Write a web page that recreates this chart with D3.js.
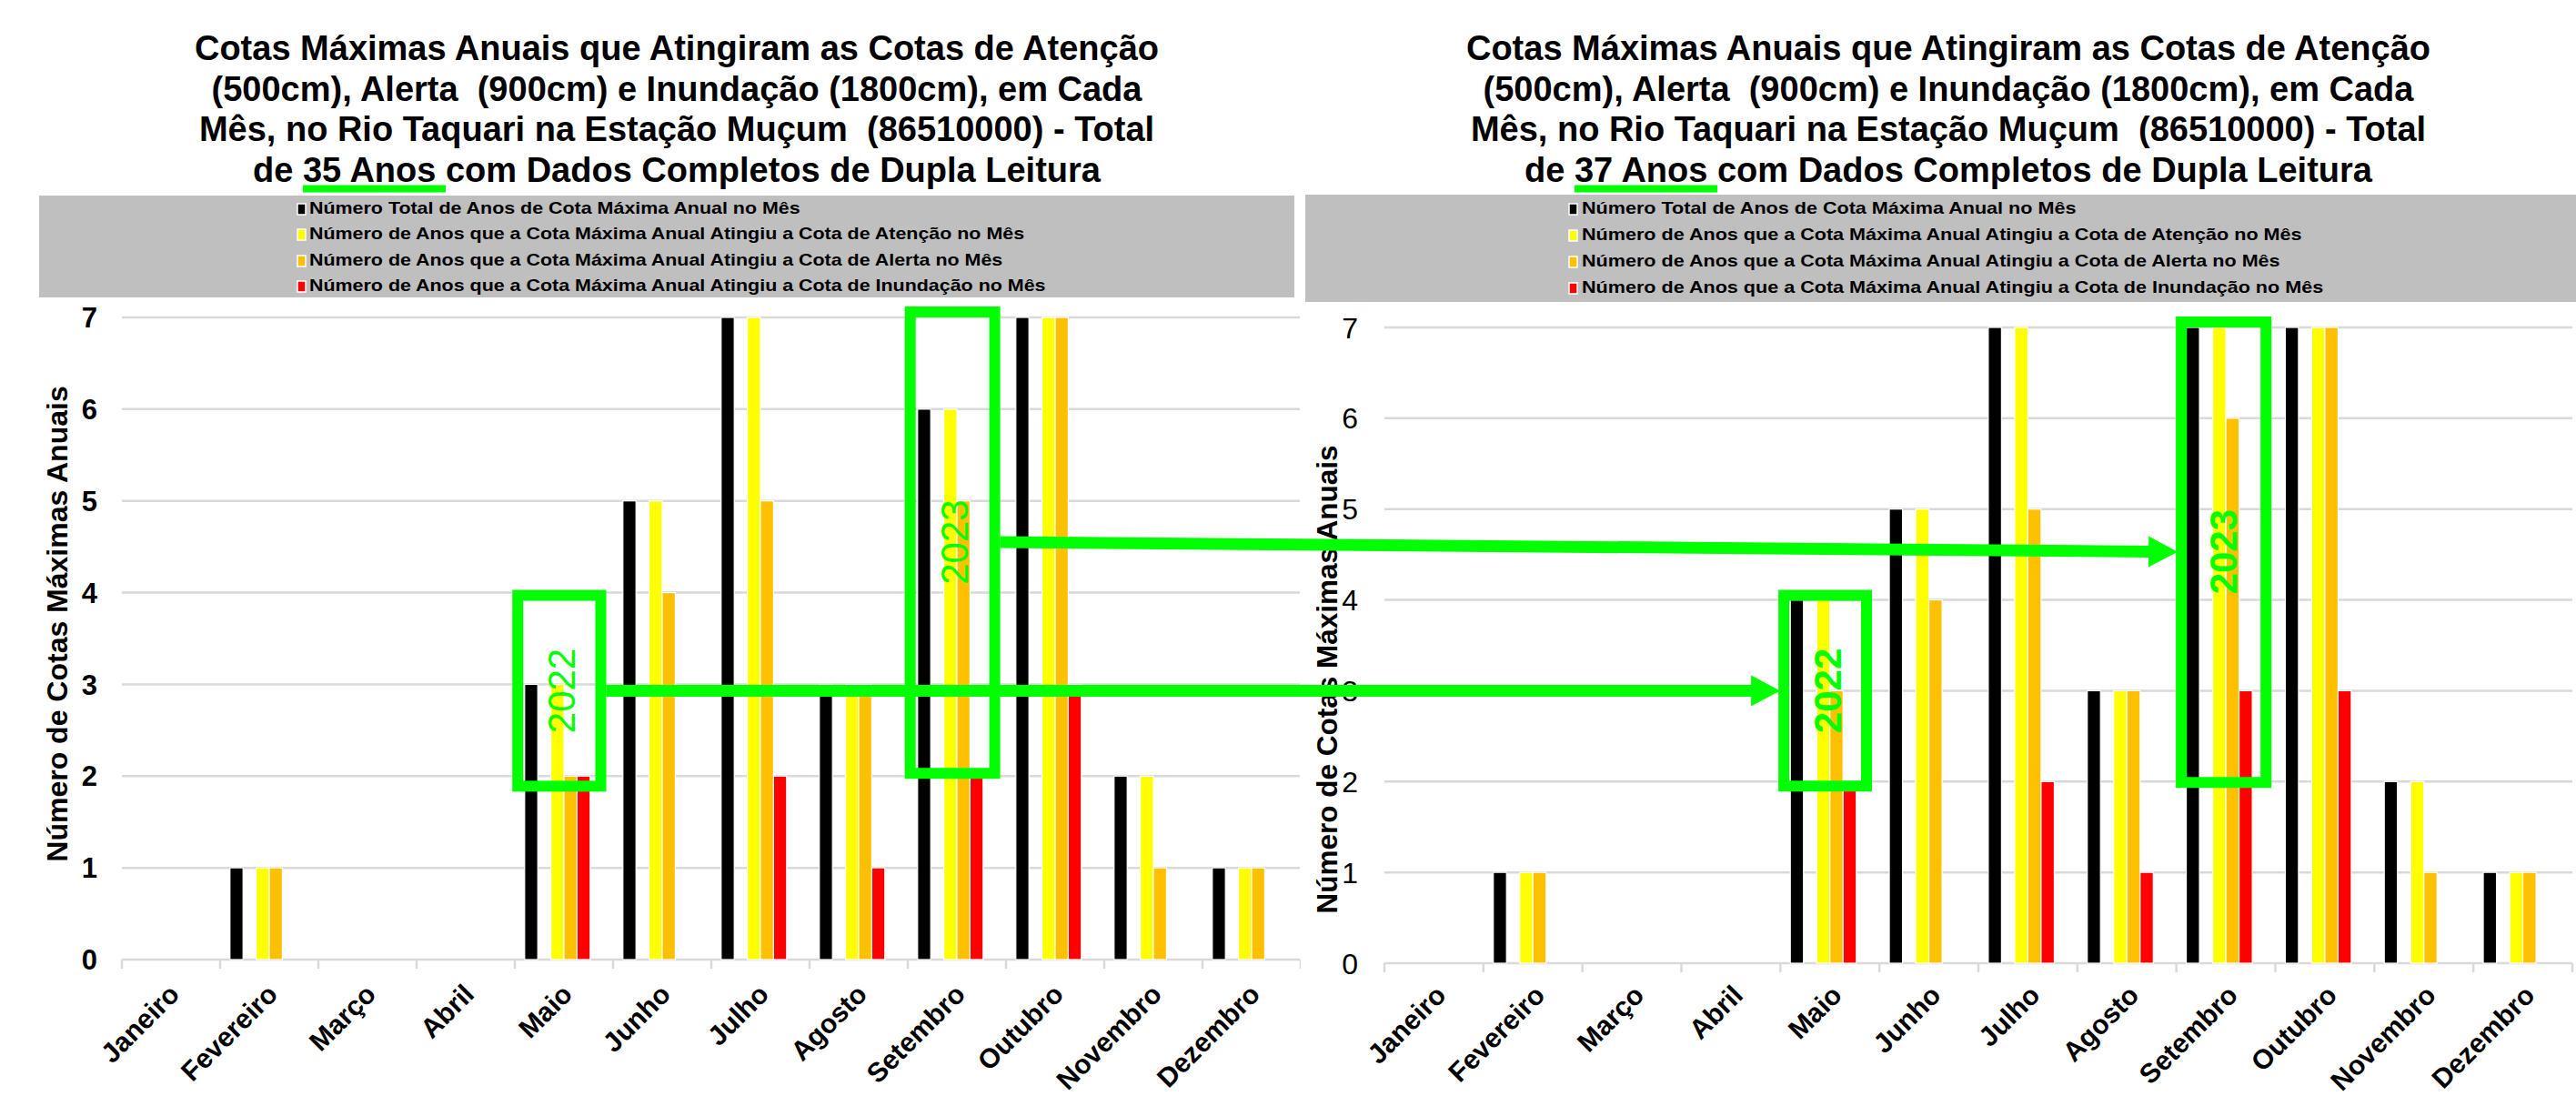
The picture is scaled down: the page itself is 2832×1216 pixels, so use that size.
<!DOCTYPE html>
<html><head><meta charset="utf-8">
<script src="https://cdn.jsdelivr.net/npm/d3@7"></script>
<style>
body{margin:0;background:#fff;}
text{font-family:"Liberation Sans",Arial,sans-serif;}
</style>
</head><body>
<svg id="c" width="2832" height="1216" xmlns="http://www.w3.org/2000/svg"></svg>
<script>
// ---------------- DATA ----------------
const months = ["Janeiro","Fevereiro","Março","Abril","Maio","Junho","Julho","Agosto","Setembro","Outubro","Novembro","Dezembro"];
const seriesNames = [
  "Número Total de Anos de Cota Máxima Anual no Mês",
  "Número de Anos que a Cota Máxima Anual Atingiu a Cota de Atenção no Mês",
  "Número de Anos que a Cota Máxima Anual Atingiu a Cota de Alerta no Mês",
  "Número de Anos que a Cota Máxima Anual Atingiu a Cota de Inundação no Mês"
];
const seriesColors = ["#000000","#FFFF00","#FFC000","#FF0000"];
const yTicks = [0,1,2,3,4,5,6,7];
const yAxisTitle = "Número de Cotas Máximas Anuais";

// 35 years chart
const total35     = [0,1,0,0,3,5,7,3,6,7,2,1];
const atencao35   = [0,1,0,0,3,5,7,3,6,7,2,1];
const alerta35    = [0,1,0,0,2,4,5,3,5,7,1,1];
const inundacao35 = [0,0,0,0,2,0,2,1,2,3,0,0];
// 37 years chart
const total37     = [0,1,0,0,4,5,7,3,7,7,2,1];
const atencao37   = [0,1,0,0,4,5,7,3,7,7,2,1];
const alerta37    = [0,1,0,0,3,4,5,3,6,7,1,1];
const inundacao37 = [0,0,0,0,2,0,2,1,3,3,0,0];

const titleLines35 = [
  "Cotas Máximas Anuais que Atingiram as Cotas de Atenção",
  "(500cm), Alerta  (900cm) e Inundação (1800cm), em Cada",
  "Mês, no Rio Taquari na Estação Muçum  (86510000) - Total",
  "de 35 Anos com Dados Completos de Dupla Leitura"
];
const titleLines37 = [
  "Cotas Máximas Anuais que Atingiram as Cotas de Atenção",
  "(500cm), Alerta  (900cm) e Inundação (1800cm), em Cada",
  "Mês, no Rio Taquari na Estação Muçum  (86510000) - Total",
  "de 37 Anos com Dados Completos de Dupla Leitura"
];
const underlinePrefix = "de ";
const underline35 = "35 Anos ";
const underline37 = "37 Anos ";

// annotation labels (years highlighted)
const highlightYears = ["2022","2023"];
const highlightMonths = ["Maio","Setembro"];

// ---------------- DRAW ----------------
const svg = d3.select("#c");
svg.append("rect").attr("width",2832).attr("height",1216).attr("fill","#fff");
const GREEN = "#00FF00";
const GRID = "#D9D9D9";

function textWidth(str, size, weight){
  const t = svg.append("text").style("white-space","pre")
    .attr("font-size",size).attr("font-weight",weight).text(str);
  const w = t.node().getComputedTextLength();
  t.remove();
  return w;
}

function drawChart(cfg){
  const g = svg.append("g");
  g.append("rect").attr("x",cfg.bg[0]).attr("y",0).attr("width",cfg.bg[1]-cfg.bg[0]).attr("height",1216).attr("fill","#fff");

  // title
  const tsize = 38;
  cfg.title.forEach((line,i)=>{
    g.append("text").attr("x",cfg.titleCx).attr("y",cfg.titleY0 + i*44.5)
      .attr("text-anchor","middle").attr("font-size",tsize).attr("font-weight","bold")
      .style("white-space","pre").attr("fill","#000").text(line);
  });
  const W = textWidth(cfg.title[3], tsize, "bold");
  const p = textWidth(underlinePrefix, tsize, "bold");
  const u = textWidth(cfg.underline, tsize, "bold");
  cfg.ulx = cfg.titleCx - W/2 + p; cfg.ulw = u;

  // legend
  const lg = g.append("g");
  lg.append("rect").attr("x",cfg.legBox[0]).attr("y",cfg.legBox[1]).attr("width",cfg.legBox[2]).attr("height",cfg.legBox[3]).attr("fill","#BFBFBF");
  const nat = textWidth(seriesNames[0], 18, "bold");
  const sx = cfg.legW0 / nat;
  seriesNames.forEach((name,i)=>{
    const by = cfg.legBase[i];
    lg.append("rect").attr("x",cfg.legSw).attr("y",by-11).attr("width",9).attr("height",12)
      .attr("fill",seriesColors[i]).attr("stroke","#fff").attr("stroke-width",1.5);
    lg.append("text").attr("transform",`translate(${cfg.legText},${by}) scale(${sx},1)`)
      .attr("font-size",18).attr("font-weight","bold").attr("fill","#000").text(name);
  });

  // scales
  const x = d3.scaleBand().domain(months).range(cfg.xr).paddingInner(0).paddingOuter(0);
  const y = d3.scaleLinear().domain([0,7]).range(cfg.yr);
  const x1 = d3.scaleBand().domain(d3.range(6)).range([0,x.bandwidth()]).paddingOuter(0.75);
  const slots = [0,2,3,4];
  cfg.x = x; cfg.y = y;

  // gridlines
  g.append("g").selectAll("line").data(yTicks).join("line")
    .attr("x1",cfg.xr[0]).attr("x2",cfg.gridEnd).attr("y1",d=>y(d)).attr("y2",d=>y(d))
    .attr("stroke",GRID).attr("stroke-width",2.5);
  g.append("g").selectAll("line").data(d3.range(months.length+1)).join("line")
    .attr("x1",i=>cfg.xr[0]+i*x.step()).attr("x2",i=>cfg.xr[0]+i*x.step())
    .attr("y1",y(0)).attr("y2",y(0)+10).attr("stroke",GRID).attr("stroke-width",2.5);

  // y tick labels
  g.append("g").selectAll("text").data(yTicks).join("text")
    .attr("x",cfg.yLabX).attr("y",d=>y(d)).attr("dy","0.36em").attr("text-anchor","end")
    .attr("font-size",cfg.yLabSize).attr("font-weight",cfg.yLabWeight).attr("fill","#000").text(d=>d);

  // y title
  g.append("text").attr("transform",`translate(${cfg.yTitle[0]},${cfg.yTitle[1]}) rotate(-90)`)
    .attr("text-anchor","middle").attr("font-size",cfg.yTitleSize).attr("font-weight","bold")
    .attr("fill","#000").text(yAxisTitle);

  // x labels
  g.append("g").selectAll("text").data(months).join("text")
    .attr("transform",d=>`translate(${x(d)+x.bandwidth()/2+cfg.xLabDx},${y(0)+cfg.xLabDy}) rotate(-45)`)
    .attr("text-anchor","end").attr("font-size",30).attr("font-weight","bold").attr("fill","#000").text(d=>d);

  // bars
  cfg.series.forEach((vals,si)=>{
    g.append("g").selectAll("rect").data(vals.map((v,i)=>({m:months[i],v})).filter(d=>d.v>0)).join("rect")
      .attr("x",d=>x(d.m)+x1(slots[si])).attr("width",x1.bandwidth())
      .attr("y",d=>y(d.v)).attr("height",d=>y(0)-y(d.v))
      .attr("fill",seriesColors[si]).attr("stroke","#fff").attr("stroke-width",1.2);
  });
  return cfg;
}

const L = drawChart({
  bg:[0,1430], title:titleLines35, titleCx:744, titleY0:66, underline:underline35,
  legBox:[43,215,1380,112], legSw:327, legText:340, legBase:[235,263,292,320], legW0:540,
  xr:[134,1430], yr:[1055,349], gridEnd:1429, yLabX:107, yLabWeight:"bold", yLabSize:31,
  yTitle:[74,686], yTitleSize:32, xLabDx:11, xLabDy:40,
  series:[total35,atencao35,alerta35,inundacao35]
});
const R = drawChart({
  bg:[1430,2832], title:titleLines37, titleCx:2142, titleY0:66, underline:underline37,
  legBox:[1435,214,1397,118], legSw:1725, legText:1739, legBase:[235,264,293,322], legW0:544,
  xr:[1522,2828], yr:[1059,360], gridEnd:2828, yLabX:1493, yLabWeight:"normal", yLabSize:32,
  yTitle:[1470,747], yTitleSize:31.5, xLabDx:15, xLabDy:37,
  series:[total37,atencao37,alerta37,inundacao37]
});

// ---------------- GREEN ANNOTATIONS ----------------
const ann = svg.append("g");
[L,R].forEach(c=>{
  ann.append("rect").attr("x",c.ulx).attr("y",c.titleY0+3*44.5+4).attr("width",c.ulw).attr("height",8).attr("fill",GREEN);
});
const boxes = [
  {c:L, m:highlightMonths[0], f0:0.03, f1:0.875, v0:3.97, v1:1.89, yr:highlightYears[0], bold:false, tv:2.93},
  {c:L, m:highlightMonths[1], f0:0.025, f1:0.885, v0:7.06, v1:2.03, yr:highlightYears[1], bold:false, tv:4.55},
  {c:R, m:highlightMonths[0], f0:0.035, f1:0.87, v0:4.05, v1:1.95, yr:highlightYears[0], bold:true, tv:3.0},
  {c:R, m:highlightMonths[1], f0:0.05, f1:0.905, v0:7.06, v1:1.99, yr:highlightYears[1], bold:true, tv:4.53}
];
boxes.forEach(b=>{
  const x = b.c.x, y = b.c.y, bw = x.bandwidth();
  const x0 = x(b.m)+b.f0*bw, x1 = x(b.m)+b.f1*bw;
  b.left = x0-6; b.right = x1+6;
  ann.append("rect").attr("x",x0).attr("y",y(b.v0)).attr("width",x1-x0).attr("height",y(b.v1)-y(b.v0))
    .attr("fill","none").attr("stroke",GREEN).attr("stroke-width",12);
  ann.append("text").attr("transform",`translate(${x(b.m)+bw*0.47},${y(b.tv)}) rotate(-90)`)
    .attr("text-anchor","middle").attr("dy","0.36em").attr("font-size",42)
    .attr("font-weight",b.bold?"bold":"normal").attr("fill",GREEN).text(b.yr);
});
function arrow(from, to, vFrom, vTo){
  const xs = from.right, ys = from.c.y(vFrom);
  const xt = to.left+2, yt = to.c.y(vTo);
  const headL = 32, headH = 17;
  const ang = Math.atan2(yt-ys, xt-xs);
  const bx = xt - headL*Math.cos(ang), by = yt - headL*Math.sin(ang);
  ann.append("line").attr("x1",xs).attr("y1",ys).attr("x2",bx+1).attr("y2",by)
    .attr("stroke",GREEN).attr("stroke-width",13);
  const nx = -Math.sin(ang), ny = Math.cos(ang);
  ann.append("polygon").attr("points",[[xt,yt],[bx+nx*headH,by+ny*headH],[bx-nx*headH,by-ny*headH]].map(p=>p.join(",")).join(" "))
    .attr("fill",GREEN);
}
arrow(boxes[0], boxes[2], 2.93, 3.0);
arrow(boxes[1], boxes[3], 4.55, 4.53);
</script>
</body></html>
